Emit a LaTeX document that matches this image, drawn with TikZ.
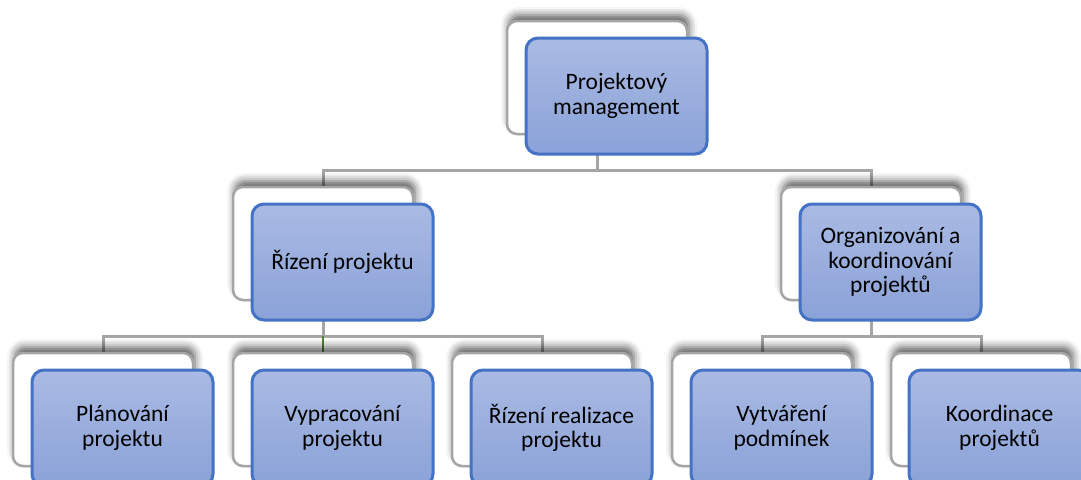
\documentclass[tikz,border=0pt]{standalone}
\usepackage{fontspec}
\setmainfont{Carlito}
\usetikzlibrary{shadows.blur}
\definecolor{linegray}{RGB}{165,165,165}
\definecolor{boxborder}{RGB}{68,114,196}
\definecolor{filltop}{RGB}{170,186,227}
\definecolor{fillbot}{RGB}{138,162,216}
\definecolor{stubgreen}{RGB}{84,130,53}
\pgfdeclarelayer{background}
\pgfsetlayers{background,main}
\begin{document}
\begin{tikzpicture}[x=1pt,y=-1pt,
  backbox/.style={draw=linegray, line width=2.5pt, fill=white, rounded corners=10pt,
    minimum width=180pt, minimum height=113pt, inner sep=0pt, outer sep=0pt, anchor=north west,
    blur shadow={shadow xshift=2pt, shadow yshift=6pt, shadow blur radius=8pt, shadow opacity=65}},
  bluebox/.style={draw=boxborder, line width=3pt, top color=filltop, bottom color=fillbot,
    rounded corners=12pt, minimum width=181pt, minimum height=116pt, inner sep=2pt, outer sep=0pt,
    anchor=north west, align=center, font=\fontsize{23.5}{24.5}\selectfont, text=black},
  conn/.style={draw=linegray, line width=3pt},
  greenconn/.style={draw=stubgreen, line width=2pt}
]
\useasboundingbox (0,0) rectangle (1081,479);
\clip (0,0) rectangle (1081,479);

% back boxes
\node[backbox] (b0) at (507,21) {};
\node[backbox] (b1) at (233,187) {};
\node[backbox] (b2) at (781,187) {};
\node[backbox] (b3) at (13,353) {};
\node[backbox] (b4) at (233,353) {};
\node[backbox] (b5) at (452,353) {};
\node[backbox] (b6) at (672,353) {};
\node[backbox] (b7) at (891,353) {};

% front boxes
\node[bluebox] (n0) at (526,38) {Projektový\\management};
\node[bluebox] (n1) at (252,204) {Řízení projektu};
\node[bluebox] (n2) at (800,204) {Organizování a\\koordinování\\projektů};
\node[bluebox] (n3) at (32,370) {Plánování\\projektu};
\node[bluebox] (n4) at (252,370) {Vypracování\\projektu};
\node[bluebox] (n5) at (471,370) {Řízení realizace\\projektu};
\node[bluebox] (n6) at (691,370) {Vytváření\\podmínek};
\node[bluebox] (n7) at (909,370) {Koordinace\\projektů};

% connectors
\coordinate (j0) at (597,170);
\coordinate (j1) at (0,336);
\begin{pgfonlayer}{background}
  \draw[conn] (b0.south) -- (b0.south |- j0) -| (b1.north);
  \draw[conn] (b0.south |- j0) -| (b2.north);
  \draw[conn] (b1.south) -- (b1.south |- j1) -| (b3.north);
  \draw[conn] (b1.south |- j1) -| (b5.north);
  \draw[greenconn] (b4.north |- j1) -- (b4.north);
  \draw[conn] (b2.south) -- (b2.south |- j1) -| (b6.north);
  \draw[conn] (b2.south |- j1) -| (b7.north);
\end{pgfonlayer}
\end{tikzpicture}
\end{document}
